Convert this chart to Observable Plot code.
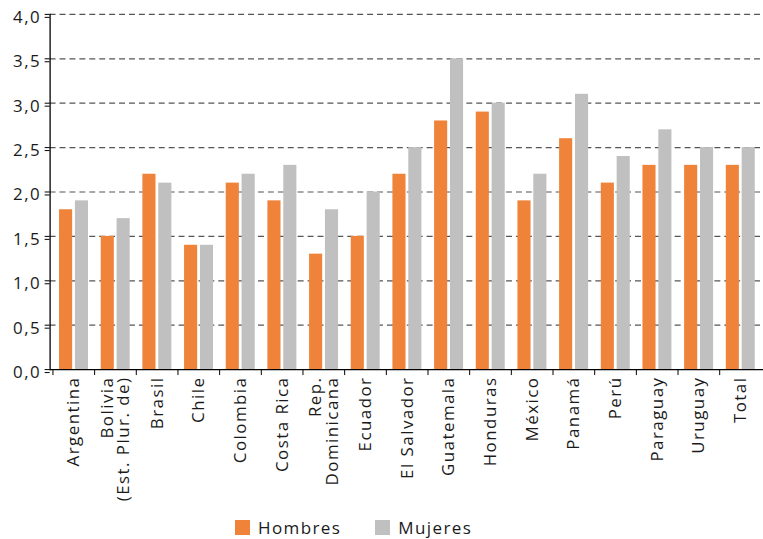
<!DOCTYPE html>
<html>
<head>
<meta charset="utf-8">
<script src="https://cdn.jsdelivr.net/npm/d3@7"></script>
<script src="https://cdn.jsdelivr.net/npm/@observablehq/plot@0.6"></script>
<style>
  html, body { margin: 0; padding: 0; overflow: hidden; background: #fff; width: 763px; height: 539px; }
  #chart { position: absolute; left: 0; top: 0; }
  #legend { position: absolute; left: 235px; top: 516px; display: flex; align-items: center;
            font-family: "Open Sans", sans-serif; font-size: 17px; letter-spacing: 1.4px; color: #1a1a1a; }
  .sw { width: 15px; height: 15px; display: inline-block; margin-right: 8px; }
  .item { display: flex; align-items: center; margin-right: 34px; }
</style>
</head>
<body>
<div id="chart"></div>
<div id="legend"></div>
<script>
const countries = ["Argentina", "Bolivia\n(Est. Plur. de)", "Brasil", "Chile", "Colombia", "Costa Rica",
  "Rep.\nDominicana", "Ecuador", "El Salvador", "Guatemala", "Honduras", "México", "Panamá",
  "Perú", "Paraguay", "Uruguay", "Total"];
const hombres = [1.8, 1.5, 2.2, 1.4, 2.1, 1.9, 1.3, 1.5, 2.2, 2.8, 2.9, 1.9, 2.6, 2.1, 2.3, 2.3, 2.3];
const mujeres = [1.9, 1.7, 2.1, 1.4, 2.2, 2.3, 1.8, 2.0, 2.5, 3.5, 3.0, 2.2, 3.1, 2.4, 2.7, 2.5, 2.5];
const yTicks = [0, 0.5, 1, 1.5, 2, 2.5, 3, 3.5, 4];
const seriesNames = ["Hombres", "Mujeres"];
const seriesColors = ["#F0833A", "#BFC0BF"];

const data = countries.map((c, i) => ({country: c, hombres: hombres[i], mujeres: mujeres[i]}));
const fmt = d => d.toFixed(1).replace(".", ",");

const width = 769, marginLeft = 50, marginRight = 0;
const bw = (width - marginLeft - marginRight) / countries.length;

const chart = Plot.plot({
  width, height: 500,
  marginLeft, marginRight, marginTop: 14, marginBottom: 128,
  style: {fontFamily: "'Open Sans', sans-serif", fontSize: "17px", letterSpacing: "1.5px", color: "#1a1a1a", background: "#fff", overflow: "visible"},
  x: {type: "band", domain: countries, paddingInner: 0, paddingOuter: 0},
  y: {domain: [0, 4]},
  marks: [
    Plot.ruleY(yTicks.filter(t => t > 0), {stroke: "#555", strokeWidth: 1.2, strokeDasharray: "6,4"}),
    Plot.barY(data, {x: "country", y: "hombres", fill: seriesColors[0], insetLeft: 6.5, insetRight: bw - 6.5 - 13.5}),
    Plot.barY(data, {x: "country", y: "mujeres", fill: seriesColors[1], insetLeft: 22.5, insetRight: bw - 22.5 - 13.5}),
    Plot.ruleY([0], {stroke: "#000", strokeWidth: 1.3}),
    Plot.frame({anchor: "left", stroke: "#000", strokeWidth: 1.3}),
    Plot.axisY({ticks: yTicks, tickFormat: fmt, tickSize: 5, tickPadding: 4, fontSize: 17, dy: 3, stroke: "#000", label: null}),
    Plot.axisY({ticks: yTicks, tickFormat: () => "", tickSize: 5, stroke: "#000", label: null}),
    Plot.axisX({tickSize: 6, tickFormat: () => "", dx: -bw / 2, stroke: "#000", label: null}),
    Plot.axisX({tickSize: 0, tickPadding: 7, tickRotate: -90, fontSize: 17, label: null})
  ]
});
document.getElementById("chart").appendChild(chart);

const legend = document.getElementById("legend");
seriesNames.forEach((n, i) => {
  const it = document.createElement("div");
  it.className = "item";
  it.innerHTML = `<span class="sw" style="background:${seriesColors[i]}"></span><span>${n}</span>`;
  legend.appendChild(it);
});
</script>
</body>
</html>
